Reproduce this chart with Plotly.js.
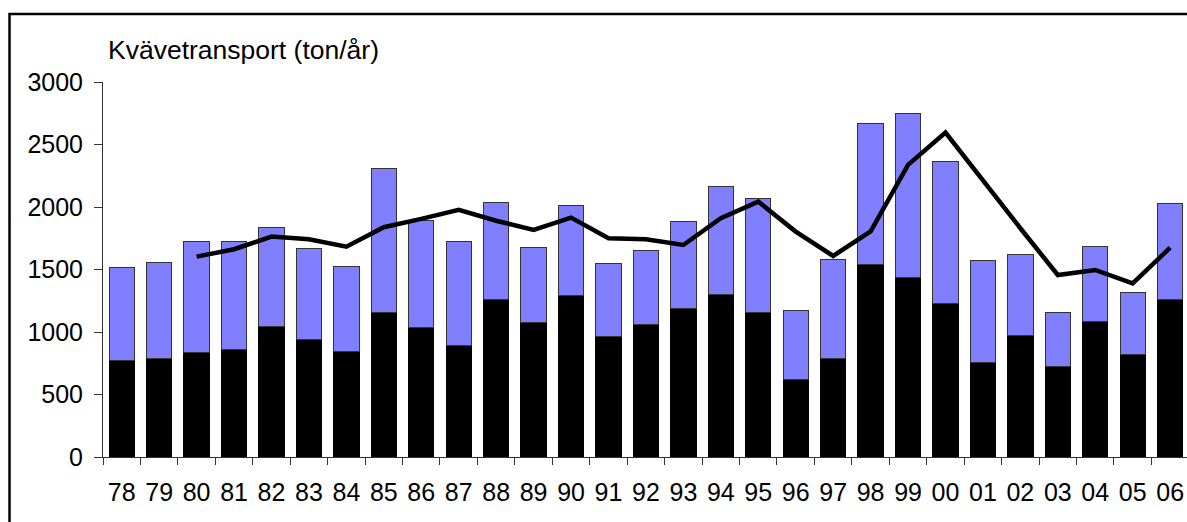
<!DOCTYPE html>
<html>
<head>
<meta charset="utf-8">
<script src="https://cdn.plot.ly/plotly-3.0.1.min.js"></script>
<style>html,body{margin:0;padding:0;background:#fff;}#chart{width:1187px;height:522px;}</style>
</head>
<body>
<div id="chart"></div>
<script>
const years = ['78','79','80','81','82','83','84','85','86','87','88','89','90','91','92','93','94','95','96','97','98','99','00','01','02','03','04','05','06'];
const blackPart = [775,790,840,863,1047,943,847,1159,1039,896,1264,1077,1296,965,1063,1189,1304,1159,623,791,1544,1440,1231,759,973,721,1087,820,1261];
const totalTransport = [1518,1558,1726,1726,1838,1670,1522,2308,1894,1726,2038,1678,2014,1550,1654,1883,2167,2071,1173,1582,2666,2752,2364,1574,1622,1157,1686,1317,2027];
const lineValues = [null,null,1603,1662,1763,1742,1683,1838,1905,1977,1890,1817,1915,1750,1742,1696,1910,2043,1803,1608,1805,2337,2596,2210,1830,1456,1496,1389,1675];
const yTicks = [0,500,1000,1500,2000,2500,3000];
const titleText = 'Kvävetransport (ton/år)';

const upperPart = totalTransport.map((t,i)=>t-blackPart[i]);
const font = {family:'"Liberation Sans", Arial, sans-serif', size:25, color:'#000'};

const traces = [
  {type:'bar', x:years, y:blackPart, marker:{color:'#000000', line:{color:'#000', width:1}}, hoverinfo:'skip'},
  {type:'bar', x:years, y:upperPart, marker:{color:'#8080FF', line:{color:'#333', width:1}}, hoverinfo:'skip'},
  {type:'scatter', mode:'lines', x:years, y:lineValues, line:{color:'#000', width:4.5}, connectgaps:false, hoverinfo:'skip'}
];

const layout = {
  width:1187, height:522,
  margin:{l:103, r:0, t:82, b:65},
  paper_bgcolor:'#fff', plot_bgcolor:'#fff',
  showlegend:false,
  barmode:'stack', bargap:0.325,
  font:font,
  xaxis:{type:'category', range:[-0.5,28.45], tickson:'boundaries', ticks:'outside', ticklen:7, tickcolor:'#333',
         showline:true, linecolor:'#333', linewidth:1, showgrid:false, zeroline:false, tickfont:font,
         ticklabelstandoff:13, fixedrange:true},
  yaxis:{range:[0,3000], tickvals:yTicks, ticktext:yTicks.map(String), ticks:'outside', ticklen:8, tickcolor:'#333',
         showline:true, linecolor:'#333', linewidth:1, showgrid:false, zeroline:false, tickfont:font,
         ticklabelstandoff:6, fixedrange:true},
  annotations:[{text:titleText, xref:'paper', yref:'paper', x:(106-103)/1084, y:(457-50)/375, xanchor:'left', yanchor:'middle',
                showarrow:false, font:{family:font.family, size:26.5, color:'#000'}}],
  shapes:[{type:'rect', xref:'paper', yref:'paper', x0:(9.5-103)/1084, x1:1.02, y0:-0.3, y1:(457-14)/375,
           line:{color:'#000', width:2.5}, fillcolor:'rgba(0,0,0,0)', layer:'above'}]
};

Plotly.newPlot('chart', traces, layout, {staticPlot:true, displayModeBar:false});
</script>
</body>
</html>
